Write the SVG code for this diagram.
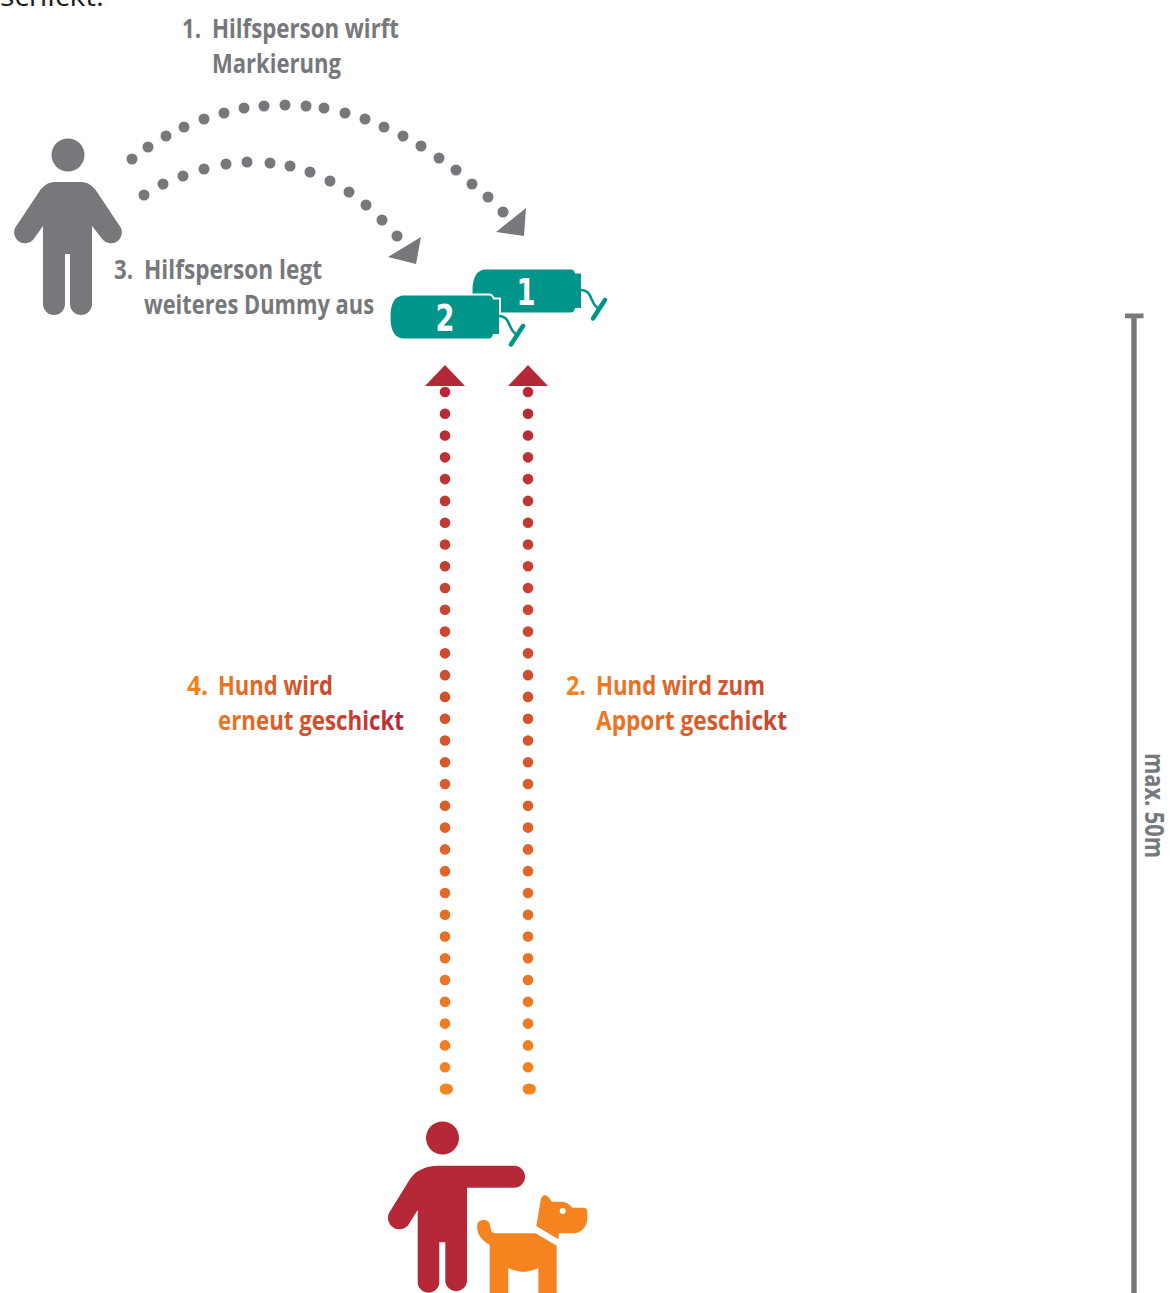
<svg xmlns="http://www.w3.org/2000/svg" xmlns:xlink="http://www.w3.org/1999/xlink" width="1173" height="1293" viewBox="0 0 1173 1293">
<style>
text{font-family:"Open Sans","Noto Sans","Liberation Sans",sans-serif;font-size:27px;font-weight:700}
.grey{fill:#77787b}
.dots{fill:none;stroke-linecap:round;stroke-width:11}
.vdots{fill:none;stroke-linecap:round;stroke-width:10.6;stroke-dasharray:0 21.78}
.teal{fill:#00958a}
.digit{font-family:"DejaVu Sans",sans-serif;font-weight:700;font-size:37px;fill:#fff;text-anchor:middle}
</style>
<defs>
<linearGradient id="vg" gradientUnits="userSpaceOnUse" x1="0" y1="385" x2="0" y2="1095"><stop offset="0" stop-color="#b52837"/><stop offset="1" stop-color="#f58420"/></linearGradient>
<linearGradient id="t4" gradientUnits="userSpaceOnUse" x1="187" y1="0" x2="404" y2="0"><stop offset="0" stop-color="#f58420"/><stop offset="1" stop-color="#b52837"/></linearGradient>
<linearGradient id="t2" gradientUnits="userSpaceOnUse" x1="566" y1="0" x2="815" y2="0"><stop offset="0" stop-color="#f58420"/><stop offset="1" stop-color="#c03a35"/></linearGradient>
<path id="dummyBody" d="M486 269.5H571Q574 269.5 575 273.5H581V308H575Q574 312.5 571 312.5H486C477 312.5 472.5 305 472.5 291C472.5 277 477 269.5 486 269.5Z"/>
<g id="dummyCord" fill="none" stroke="#00958a" stroke-linecap="round"><path stroke-width="2.5" d="M581 290C588 290 590 295 592 300C593.5 304 595 306 597.5 308"/><path stroke-width="4.5" d="M593 318.5L605 300"/></g>
</defs>
<text x="0" y="6" textLength="104" lengthAdjust="spacingAndGlyphs" style="font-weight:400" fill="#1d1d1b">schickt.</text>
<g id="connectors">
<path class="dots" stroke="#77787b" d="M132 159h.01M148 147h.01M166 136h.01M184 127h.01M204 119h.01M224 113h.01M244 108h.01M264 106h.01M285 105h.01M306 106h.01M324 108h.01M345 113h.01M365 119h.01M384 127h.01M403 136h.01M421 146h.01M439 158h.01M456 170h.01M472 184h.01M488 197h.01M503 212h.01"/>
<polygon class="grey" points="526,208 524,236 496,232"/>
<path class="dots" stroke="#77787b" d="M144 195h.01M163 184h.01M183 176h.01M204 169h.01M226 164h.01M247 162h.01M270 163h.01M290 166h.01M310 172h.01M330 181h.01M349 192h.01M366 205h.01M382 220h.01M397 236h.01"/>
<polygon class="grey" points="421,237 416,264 388,257"/>
<path class="vdots" stroke="url(#vg)" d="M445 392V1090"/>
<ellipse cx="446.5" cy="1089" rx="6.5" ry="5.5" fill="#f58420"/>
<polygon fill="#b52837" points="425,386 465,386 445,365"/>
<path class="vdots" stroke="url(#vg)" d="M528 392V1090"/>
<ellipse cx="529.5" cy="1089" rx="6.5" ry="5.5" fill="#f58420"/>
<polygon fill="#b52837" points="508,386 548,386 528,365"/>
</g>
<g id="helper">
<circle class="grey" cx="68" cy="155" r="16.5"/>
<path class="grey" d="M55 182H81C88 182 93 186 97 192L121 228A11 11 0 0 1 103 240L92 226V304A11 11 0 0 1 70 304V254H65V304A11 11 0 0 1 43 304V226L33 240A11 11 0 0 1 15 228L39 192C43 186 48 182 55 182Z"/>
</g>
<g id="handler">
<circle fill="#b52837" cx="442.5" cy="1138" r="16.5"/>
<path fill="#b52837" d="M438 1165.7H514A11 11 0 0 1 514 1187.7H467V1282A11 11 0 0 1 445.3 1282V1242.3H439.3V1282A10.8 10.8 0 0 1 417.7 1282V1210L408 1225.5A11.5 11.5 0 0 1 389 1213L410 1179C415 1171 426 1165.7 438 1165.7Z"/>
</g>
<g id="dog">
<path fill="#f58420" d="M477.3 1229C476 1221 481 1220 484 1220C488 1220 490 1223 490.5 1227C491 1231 492 1233.3 496 1233.3H535.7L556.7 1245.7V1293H538.3V1268C528 1273 519 1273 508.3 1268V1293H489.7V1245C483 1241 478 1236 477.3 1229Z"/>
<path fill="#f58420" d="M536.3 1226L540.7 1200C541 1197 543 1195.3 545 1195.3C547 1195.3 549 1197 551.7 1201.7H561C566 1201.7 569 1204 572.3 1207.7H583.3C586 1207.7 587.3 1209 587.3 1212V1218C587.3 1227 581 1233.3 573.3 1233.3H559L558.3 1239.3Z"/>
<circle cx="562.7" cy="1211" r="3" fill="#fff"/>
</g>
<g id="dummy1">
<use xlink:href="#dummyBody" class="teal"/>
<use xlink:href="#dummyCord"/>
<text class="digit" x="526" y="305" textLength="19" lengthAdjust="spacingAndGlyphs">1</text>
</g>
<g id="dummy2" transform="translate(-82 26)">
<use xlink:href="#dummyBody" fill="none" stroke="#fff" stroke-width="4"/>
<use xlink:href="#dummyBody" class="teal"/>
<use xlink:href="#dummyCord"/>
<text class="digit" x="527" y="305" textLength="19" lengthAdjust="spacingAndGlyphs">2</text>
</g>
<g id="label1" class="grey">
<text x="182" y="37.5" textLength="19" lengthAdjust="spacingAndGlyphs">1.</text>
<text x="212" y="37.5" textLength="187" lengthAdjust="spacingAndGlyphs">Hilfsperson wirft</text>
<text x="212" y="72.5" textLength="129" lengthAdjust="spacingAndGlyphs">Markierung</text>
</g>
<g id="label3" class="grey">
<text x="114" y="279.3" textLength="19" lengthAdjust="spacingAndGlyphs">3.</text>
<text x="144" y="279.3" textLength="178" lengthAdjust="spacingAndGlyphs">Hilfsperson legt</text>
<text x="144" y="314.3" textLength="230" lengthAdjust="spacingAndGlyphs">weiteres Dummy aus</text>
</g>
<g id="label4" fill="url(#t4)">
<text x="187" y="694.5" textLength="21" lengthAdjust="spacingAndGlyphs">4.</text>
<text x="218" y="694.5" textLength="115" lengthAdjust="spacingAndGlyphs">Hund wird</text>
<text x="218" y="729.5" textLength="186" lengthAdjust="spacingAndGlyphs">erneut geschickt</text>
</g>
<g id="label2" fill="url(#t2)">
<text x="566" y="694.5" textLength="20" lengthAdjust="spacingAndGlyphs">2.</text>
<text x="596" y="694.5" textLength="169" lengthAdjust="spacingAndGlyphs">Hund wird zum</text>
<text x="596" y="729.5" textLength="191" lengthAdjust="spacingAndGlyphs">Apport geschickt</text>
</g>
<g id="scale">
<path fill="#77787b" d="M1125 313.5H1143.5V318.3H1136.7V1293H1131.3V318.3H1125Z"/>
<text class="grey" transform="translate(1144.5 753) rotate(90)" x="0" y="0" textLength="105" lengthAdjust="spacingAndGlyphs">max. 50m</text>
</g>
</svg>
